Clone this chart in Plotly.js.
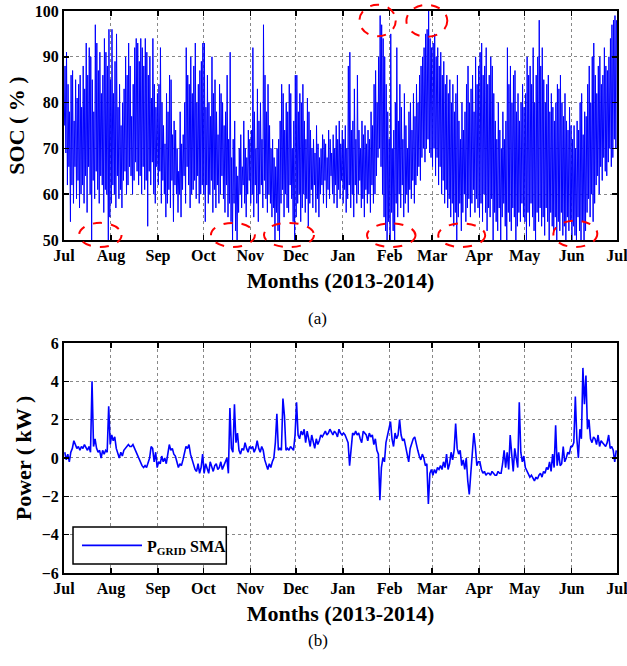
<!DOCTYPE html>
<html>
<head>
<meta charset="utf-8">
<script src="https://cdn.plot.ly/plotly-3.0.1.min.js"></script>
<style>
  html, body { margin: 0; padding: 0; background: #fff; }
  #chart { width: 627px; height: 666px; }
</style>
</head>
<body>
<div id="chart"></div>
<script>
// Battery state of charge, daily minimum and maximum (%), July 2013 - June 2014
const socMin = [
  // Jul
  75,69,62,66,54,62,58,66,59,63,57,60,62,58,64,56,66,60,50,63,59,65,61,58,64,62,56,61,60,50,55,
  // Aug
  58,62,60,57,64,59,61,57,63,65,60,62,66,64,60,63,67,65,62,64,60,66,61,63,53,65,62,67,60,58,66,
  // Sep
  62,65,58,63,60,55,58,61,57,63,54,62,60,56,60,55,61,64,58,66,62,57,60,61,63,59,64,58,60,62,
  // Oct
  60,54,62,58,60,63,56,61,57,62,58,60,64,59,56,62,55,58,54,50,58,52,50,56,60,57,62,58,55,60,63,
  // Nov
  58,60,55,62,58,54,60,62,57,63,59,56,60,58,55,57,50,56,52,50,58,61,55,60,57,56,62,59,54,50,
  // Dec
  55,58,60,54,57,60,56,59,53,58,61,57,62,56,59,55,60,62,58,63,57,61,59,64,60,58,62,57,61,59,63,
  // Jan
  58,61,56,59,62,57,60,55,62,58,60,63,57,59,55,61,58,60,56,62,58,60,64,68,70,66,60,55,52,50,54,
  // Feb
  50,56,52,50,58,55,60,57,62,55,58,60,56,61,59,63,58,62,64,66,63,68,70,67,70,72,69,68,
  // Mar
  66,70,64,68,62,66,60,63,58,61,57,59,55,58,53,56,50,55,58,52,56,60,54,57,59,55,58,61,56,59,57,
  // Apr
  55,58,54,60,56,52,57,55,59,50,56,54,52,57,50,55,58,53,50,56,54,52,57,55,50,53,56,54,58,55,
  // May
  54,50,56,53,58,55,52,50,56,54,57,53,55,51,57,54,50,56,53,52,55,50,54,52,56,51,53,50,55,52,54,
  // Jun
  50,53,51,50,55,52,50,54,50,52,56,59,55,60,54,58,62,64,60,66,63,68,65,64,67,70,66,68,72,70
];
const socMax = [
  // Jul
  88,91,84,78,86,87,76,85,81,84,86,79,88,83,93,86,92,90,85,78,97,93,87,91,82,86,94,91,88,96,85,
  // Aug
  96,82,89,95,79,84,75,80,83,90,86,93,88,77,84,92,94,93,89,94,92,88,94,91,86,90,81,94,84,79,82,
  // Sep
  84,92,80,75,71,82,78,86,85,73,76,74,70,65,78,71,73,80,92,86,84,90,82,88,93,80,84,87,89,93,
  // Oct
  93,79,86,80,77,90,82,85,78,73,84,82,80,75,78,86,72,91,68,72,76,66,64,70,73,66,76,70,68,74,72,
  // Nov
  74,92,78,70,83,76,80,72,97,86,78,84,75,70,72,68,66,70,72,76,84,82,74,80,78,84,82,70,76,86,
  // Dec
  86,78,82,80,84,76,72,81,78,74,70,72,69,75,71,68,70,73,72,71,68,74,72,69,73,70,75,72,76,71,74,
  // Jan
  72,75,70,88,91,74,76,83,72,86,74,70,76,73,75,71,74,72,78,75,84,87,80,90,99,97,94,90,84,78,72,
  // Feb
  95,70,74,80,92,76,84,79,72,82,75,70,78,80,74,82,77,84,80,86,88,90,92,95,96,100,94,92,
  // Mar
  93,95,90,92,88,91,86,89,84,86,82,85,80,84,78,82,86,76,72,80,74,78,84,88,80,83,86,78,90,84,88,
  // Apr
  91,93,86,88,92,84,86,90,88,82,76,72,80,74,70,78,72,76,92,84,88,80,86,87,78,82,76,80,84,79,
  // May
  82,90,86,88,84,92,80,86,90,98,88,92,85,80,84,86,78,82,79,76,80,84,83,86,80,77,82,76,74,79,75,
  // Jun
  72,75,70,76,74,80,82,73,78,77,84,88,80,90,93,86,82,88,90,84,86,92,88,87,90,94,97,98,99,98
];

// Grid power, simple moving average (kW), one value per day
const pGridJul = [0.3,-0.1,0.2,-0.2,0.3,0.5,0.9,0.7,0.5,0.6,0.4,0.6,0.5,0.7,0.5,0.4,0.6,0.3,4.0,0.6,1.0,0.5,0.3,0.4,0.0,0.4,0.2,0.4,0.3,2.7,0.7];
const pGridAug = [1.2,0.9,1.1,0.5,0.2,0.0,0.3,0.1,0.4,0.5,0.6,0.7,0.6,0.6,0.7,0.5,0.4,0.2,0.0,-0.2,-0.4,-0.5,-0.4,-0.5,-0.3,0.0,0.6,0.5,-0.2,0.3,-0.5];
const pGridSep = [-0.2,-0.3,0.1,-0.2,0.0,-0.3,0.2,0.7,0.4,0.5,0.2,0.1,-0.2,-0.5,-0.3,-0.4,-0.1,0.3,0.6,0.5,0.7,0.2,-0.1,-0.4,-0.6,-0.7,-0.3,-0.8,-0.5,0.2];
const pGridOct = [-0.8,-0.3,-0.6,-0.8,-0.2,-0.5,-0.7,-0.4,-0.3,-0.6,-0.5,-0.2,-0.6,-0.4,-0.2,0.0,-0.8,2.6,0.5,0.3,2.8,0.8,1.3,0.4,0.2,0.5,0.4,0.8,0.5,0.3,0.6];
const pGridNov = [0.5,0.6,0.3,0.5,0.9,0.5,0.3,0.6,0.4,-0.1,-0.4,-0.6,-0.3,-0.5,-0.2,0.0,0.8,2.3,0.4,0.5,0.4,3.1,2.2,0.4,0.5,0.4,0.6,0.5,0.4,1.2];
const pGridDec = [2.9,1.2,1.0,1.4,1.2,1.5,0.8,1.4,1.0,0.6,1.2,0.8,0.5,1.0,0.7,0.9,1.2,1.1,1.3,1.4,1.2,1.3,1.5,1.3,1.2,1.4,1.3,1.1,1.5,1.3,1.2];
const pGridJan = [1.3,1.2,1.0,0.8,-0.4,0.6,1.3,1.2,1.4,1.2,1.3,1.0,0.8,1.4,1.3,1.2,0.9,1.3,1.1,1.2,0.7,1.0,0.4,0.2,-2.2,-0.5,0.0,-0.2,0.8,1.2,1.4];
const pGridFeb = [1.9,1.0,0.6,1.3,1.0,1.2,2.0,1.2,0.9,1.0,0.6,0.3,-0.2,0.5,0.8,1.0,1.1,0.7,0.4,0.1,-0.1,0.2,0.0,-0.4,-0.3,-2.4,-0.8,-0.6];
const pGridMar = [-0.9,-0.6,-0.8,-0.5,-0.6,-0.4,-0.6,-0.2,-0.5,0.2,-0.6,-0.3,0.3,-0.1,0.4,1.8,0.5,0.2,0.4,-0.4,-0.1,-0.6,0.0,-1.2,-1.9,-0.8,0.2,1.3,0.6,-0.4,-0.2];
const pGridApr = [-0.2,-0.6,-0.8,-0.7,-0.9,-0.8,-0.8,-0.9,-0.7,-0.8,-0.9,-0.9,-0.7,-0.8,-0.8,-0.3,0.4,-0.5,0.3,-0.6,1.2,0.2,-0.7,0.5,0.0,-0.5,2.9,0.3,-0.2,0.1];
const pGridMay = [-0.5,-0.7,-0.9,-1.0,-0.9,-1.1,-1.2,-1.0,-1.1,-0.9,-0.8,-1.0,-0.7,-0.8,-0.5,-0.6,-0.2,-0.7,0.2,-0.5,1.7,-0.4,0.3,-0.4,-0.3,0.6,-0.2,0.0,0.3,0.2,0.6];
const pGridJun = [0.6,0.8,3.2,1.0,0.0,1.5,1.0,4.7,2.8,4.3,1.5,2.0,1.0,0.8,1.1,1.0,0.7,1.2,0.6,0.9,0.8,0.7,0.6,0.8,1.2,0.5,0.6,0.4,-0.2,0.4];

const startDate = '2013-07-01';
const endDate = '2014-07-01';
const xTitle = 'Months (2013-2014)';
const socTitle = 'SOC ( % )';
const powerTitle = 'Power ( kW )';
const legendName = 'P<sub>GRID</sub> SMA';

const DAY = 86400000;
const t0 = Date.UTC(2013, 6, 1);
function isoAt(ms) { return new Date(ms).toISOString().slice(0, 19).replace('T', ' '); }

// SOC trace: each day falls to its minimum overnight and climbs to its maximum in the afternoon
const socX = [], socY = [];
socMin.forEach((lo, i) => {
  socX.push(isoAt(t0 + i * DAY + 0.25 * DAY)); socY.push(lo);
  socX.push(isoAt(t0 + i * DAY + 0.67 * DAY)); socY.push(socMax[i]);
});

const pGrid = [].concat(pGridJul, pGridAug, pGridSep, pGridOct, pGridNov, pGridDec,
                        pGridJan, pGridFeb, pGridMar, pGridApr, pGridMay, pGridJun);
const pX = pGrid.map((_, i) => isoAt(t0 + i * DAY + 0.5 * DAY));

const serif = 'Liberation Serif';
const tickFont = { family: serif, size: 16, color: '#000', weight: 'bold' };
const titleFont = { family: serif, size: 22, color: '#000', weight: 'bold' };

function xAxis(anchor) {
  return {
    type: 'date', range: [startDate, endDate], anchor: anchor,
    tick0: startDate, dtick: 'M1', tickformat: '%b', ticklabeloverflow: 'allow',
    ticks: 'inside', ticklen: 5, tickwidth: 1.5, tickcolor: '#000',
    showline: true, linecolor: '#000', linewidth: 2, mirror: 'ticks',
    showgrid: true, gridcolor: '#888', griddash: 'dot', gridwidth: 1,
    zeroline: false, tickfont: tickFont,
    title: { text: xTitle, font: titleFont, standoff: 8 }
  };
}
function yAxis(anchor, range, dtick, title, domain) {
  return {
    range: range, dtick: dtick, tick0: range[0], anchor: anchor, domain: domain,
    ticks: 'inside', ticklen: 5, tickwidth: 1.5, tickcolor: '#000',
    showline: true, linecolor: '#000', linewidth: 2, mirror: 'ticks',
    showgrid: true, gridcolor: '#888', griddash: 'dot', gridwidth: 1,
    zeroline: false, tickfont: tickFont,
    title: { text: title, font: titleFont, standoff: 4 }
  };
}

// Red dashed rings highlighting where the SOC reaches its limits
const ring = { type: 'circle', xref: 'x', yref: 'paper', line: { color: '#ff0000', width: 2, dash: 'dash' } };
const rings = [
  ['2013-07-11', '2013-08-08', 0.580, 0.623],
  ['2013-10-06', '2013-11-04', 0.580, 0.623],
  ['2013-11-10', '2013-12-13', 0.580, 0.623],
  ['2014-01-17', '2014-02-18', 0.580, 0.622],
  ['2014-03-05', '2014-04-05', 0.580, 0.622],
  ['2014-05-20', '2014-06-18', 0.580, 0.627],
  ['2014-01-12', '2014-02-05', 0.955, 1.011],
  ['2014-02-12', '2014-03-11', 0.954, 1.011]
].map(r => Object.assign({}, ring, { x0: r[0], x1: r[1], y0: r[2], y1: r[3] }));

// Frame of the legend box in the lower panel
const legendFrame = {
  type: 'rect', xref: 'paper', yref: 'paper', layer: 'above',
  x0: 0.0163, x1: 0.2935, y0: 0.0161, y1: 0.0819,
  line: { color: '#000', width: 1.5 }, fillcolor: 'rgba(0,0,0,0)'
};
const legendBackground = Object.assign({}, legendFrame, { layer: 'above', line: { width: 0 }, fillcolor: '#fff' });

const traces = [
  { x: socX, y: socY, type: 'scatter', mode: 'lines', xaxis: 'x', yaxis: 'y',
    line: { color: '#0000ff', width: 1 }, showlegend: false, hoverinfo: 'skip' },
  { x: pX, y: pGrid, type: 'scatter', mode: 'lines', xaxis: 'x2', yaxis: 'y2', name: legendName,
    line: { color: '#0000ff', width: 1.6 }, showlegend: true }
];

const layout = {
  width: 627, height: 666,
  margin: { l: 64, r: 10, t: 11, b: 93 },
  paper_bgcolor: '#fff', plot_bgcolor: '#fff',
  xaxis: xAxis('y'),
  yaxis: yAxis('x', [50, 100], 10, socTitle, [0.5925, 1]),
  xaxis2: xAxis('y2'),
  yaxis2: yAxis('x2', [-6, 6], 2, powerTitle, [0, 0.4093]),
  showlegend: true,
  legend: {
    x: 0.0235, y: 0.049, xanchor: 'left', yanchor: 'middle',
    bgcolor: 'rgba(0,0,0,0)', borderwidth: 0,
    font: { family: serif, size: 16, color: '#000', weight: 'bold' },
    itemwidth: 60
  },
  shapes: [legendBackground, legendFrame].concat(rings),
  annotations: [
    { text: '(a)', xref: 'paper', yref: 'paper', x: 0.4593, y: 0.4537, showarrow: false,
      font: { family: serif, size: 17, color: '#000' } },
    { text: '(b)', xref: 'paper', yref: 'paper', x: 0.4593, y: -0.1406, showarrow: false,
      font: { family: serif, size: 17, color: '#000' } }
  ]
};

Plotly.newPlot('chart', traces, layout, { displayModeBar: false, staticPlot: true });
</script>
</body>
</html>
